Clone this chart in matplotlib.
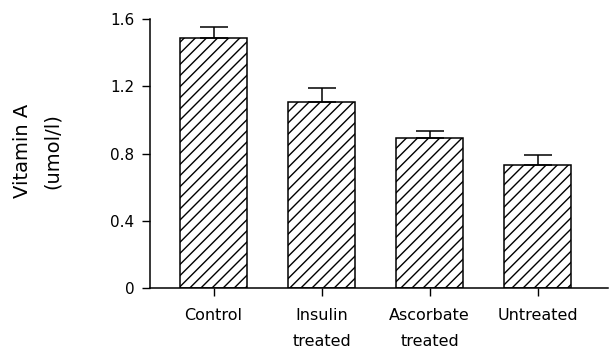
import matplotlib
matplotlib.use("Agg")
import matplotlib.pyplot as plt

categories = ["Control", "Insulin\ntreated", "Ascorbate\ntreated", "Untreated"]
vitamin_a = [1.49, 1.105, 0.895, 0.735]
sem = [0.065, 0.085, 0.04, 0.055]
yticks = [0, 0.4, 0.8, 1.2, 1.6]
ytick_labels = ["0", "0.4", "0.8", "1.2", "1.6"]

plt.rcParams["font.family"] = ["DejaVu Sans"]
plt.rcParams["hatch.linewidth"] = 1.0

fig = plt.figure(figsize=(6.14, 3.54), dpi=100)
ax = fig.add_axes([0.244, 0.186, 0.746, 0.760])

x = list(range(len(categories)))
ax.bar(x, vitamin_a, width=0.62, facecolor="white", edgecolor="black",
       linewidth=1.1, hatch="///", zorder=2)
ax.errorbar(x, vitamin_a, yerr=[[0] * len(sem), sem], fmt="none",
            ecolor="black", elinewidth=1.1, capsize=10, capthick=1.1, zorder=3)

ax.set_xlim(-0.59, 3.65)
ax.set_ylim(0, 1.6)
ax.set_yticks(yticks)
ax.set_yticklabels(ytick_labels)
ax.set_xticks(x)
ax.set_xticklabels(categories, linespacing=1.95)

for side in ("top", "right"):
    ax.spines[side].set_visible(False)
for side in ("left", "bottom"):
    ax.spines[side].set_linewidth(1.1)

ax.tick_params(axis="y", direction="out", length=6, width=1.0, labelsize=11, pad=5)
ax.tick_params(axis="x", direction="out", length=6, width=1.0, labelsize=11.5, pad=8)

fig.text(0.036, 0.573, "Vitamin A", rotation=90, ha="center", va="center", fontsize=14)
fig.text(0.086, 0.573, "(umol/l)", rotation=90, ha="center", va="center", fontsize=14)

fig.savefig("out.png", dpi=100)
